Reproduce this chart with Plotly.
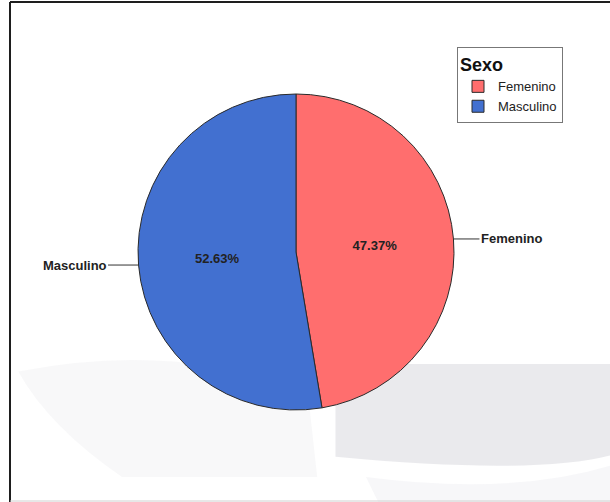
import math
import plotly.graph_objects as go

# Distribución por sexo
categorias = ["Femenino", "Masculino"]
porcentajes = [47.37, 52.63]
colores = ["#ff6e6e", "#4270d0"]

W, H = 610, 502
# pie placement in pixels
cx, cy, r = 296, 252, 158

fig = go.Figure()
fig.add_trace(go.Pie(
    labels=categorias,
    values=porcentajes,
    sort=False,
    direction="clockwise",
    rotation=0,
    marker=dict(colors=colores, line=dict(color="#2a2a2a", width=1)),
    texttemplate="<b>%{percent:.2%}</b>",
    textposition="inside",
    insidetextorientation="horizontal",
    textfont=dict(family="Liberation Sans, Arial, sans-serif", size=13, color="#222222"),
    domain=dict(x=[(cx - r) / W, (cx + r) / W], y=[1 - (cy + r) / H, 1 - (cy - r) / H]),
    hoverinfo="label+percent",
))

# outer labels with leader lines at each slice's mid-angle
total = sum(porcentajes)
acum = 0.0
annotations = []
for nombre, v in zip(categorias, porcentajes):
    mid = (acum + v / 2) / total * 2 * math.pi
    acum += v
    px = cx + r * math.sin(mid)
    py = cy - r * math.cos(mid)
    derecha = math.sin(mid) > 0
    annotations.append(dict(
        x=px / W, y=1 - py / H, xref="paper", yref="paper",
        text=f"<b>{nombre}</b>", showarrow=True, arrowhead=0, arrowwidth=1,
        arrowcolor="#333333", ax=58 if derecha else -64, ay=0,
        font=dict(family="Liberation Sans, Arial, sans-serif", size=13, color="#222222"),
    ))

# soft grey background forms
shapes = [
    dict(type="path", xref="paper", yref="paper", layer="below",
         path="M 0.55,0.275 L 1.02,0.275 L 1.02,0.10 Q 0.9,0.05 0.55,0.09 Z",
         fillcolor="#e6e6ea", line=dict(width=0), opacity=0.85),
    dict(type="path", xref="paper", yref="paper", layer="below",
         path="M 0.03,0.26 Q 0.2,0.30 0.35,0.27 L 0.50,0.27 L 0.52,0.05 L 0.20,0.05 Q 0.08,0.15 0.03,0.26 Z",
         fillcolor="#f6f6f8", line=dict(width=0), opacity=0.8),
    dict(type="path", xref="paper", yref="paper", layer="below",
         path="M 0.60,0.05 Q 0.85,0.01 1.02,0.08 L 1.02,0.00 L 0.62,0.00 Z",
         fillcolor="#f5f5f7", line=dict(width=0), opacity=0.8),
    # frame
    dict(type="line", xref="paper", yref="paper", x0=10 / W, x1=10 / W, y0=0, y1=1 - 2 / H,
         line=dict(color="#1e1e1e", width=2)),
    dict(type="line", xref="paper", yref="paper", x0=10 / W, x1=1.01, y0=1 - 2 / H, y1=1 - 2 / H,
         line=dict(color="#1e1e1e", width=2)),
    dict(type="line", xref="paper", yref="paper", x0=10 / W, x1=1.01, y0=1 / H, y1=1 / H,
         line=dict(color="#d0d0d0", width=1)),
]

fig.update_layout(
    width=W, height=H,
    margin=dict(l=0, r=0, t=0, b=0),
    paper_bgcolor="white", plot_bgcolor="white",
    font=dict(family="Liberation Sans, Arial, sans-serif"),
    showlegend=True,
    legend=dict(
        title=dict(text="<b>Sexo</b>", font=dict(size=18, color="#111111")),
        x=457 / W, y=1 - 47 / H, xanchor="left", yanchor="top",
        bgcolor="white", bordercolor="#777777", borderwidth=1,
        font=dict(size=13, color="#222222"),
        itemwidth=30, tracegroupgap=0,
    ),
    annotations=annotations,
    shapes=shapes,
)

fig.write_html("out.html")
